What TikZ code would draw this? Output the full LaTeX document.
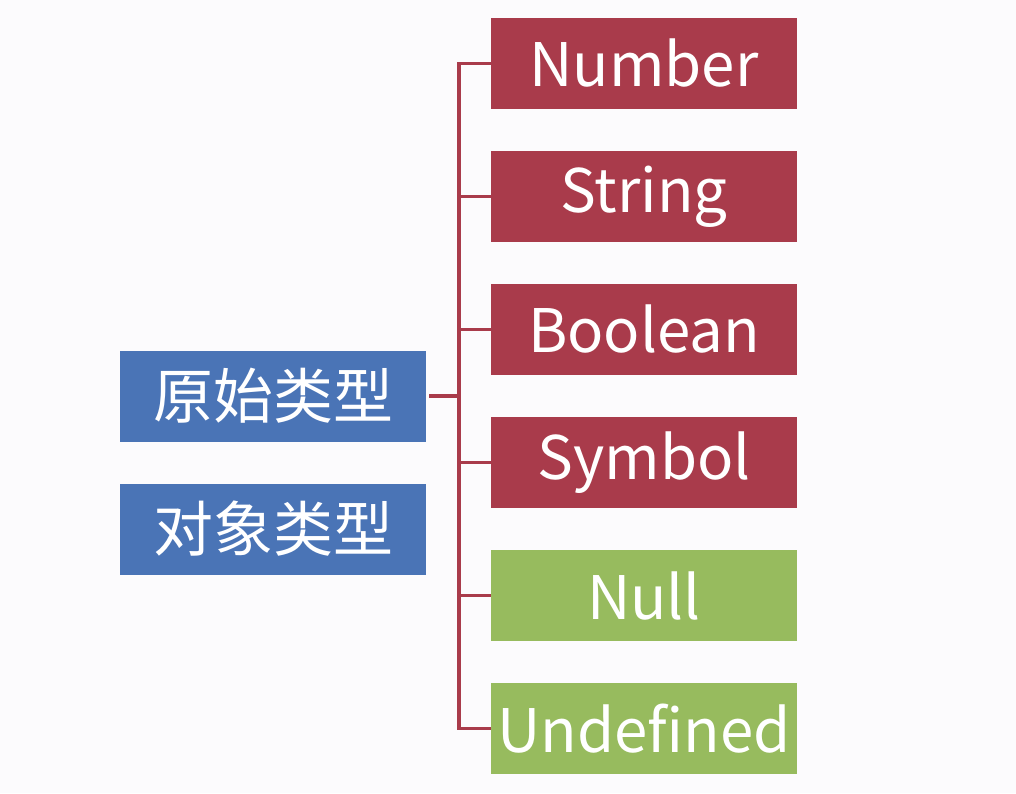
\documentclass[tikz,border=0pt]{standalone}
\usepackage{fontspec}
\setmainfont{Noto Sans CJK SC}
\definecolor{boxred}{HTML}{A93B4B}
\definecolor{boxblue}{HTML}{4A74B6}
\definecolor{boxgreen}{HTML}{97BB5E}
\definecolor{bgc}{HTML}{FCFBFD}
\begin{document}
\begin{tikzpicture}[x=1pt,y=-1pt,
  tbox/.style={rectangle, minimum width=306pt, minimum height=91pt, inner sep=0pt, text=white, font=\fontsize{60}{60}\selectfont},
  redbox/.style={tbox, fill=boxred},
  greenbox/.style={tbox, fill=boxgreen},
  bluebox/.style={tbox, fill=boxblue, font=\fontsize{60}{60}\selectfont},
  conn/.style={draw=boxred, line width=3.2pt}]
\fill[bgc] (0,0) rectangle (1016,793);
\useasboundingbox (0,0) rectangle (1016,793);
\node[redbox] (num) at (644,63.5) {Number};
\node[redbox] (str) at (644,196.5) {String};
\node[redbox] (bool) at (644,329.5) {Boolean};
\node[redbox] (sym) at (644,462.5) {Symbol};
\node[greenbox] (nul) at (644,595.5) {Null};
\node[greenbox] (und) at (644,728.5) {Undefined};
\node[bluebox] (yuan) at (273,396) {原始类型};
\node[bluebox] (obj) at (273,529) {对象类型};
\coordinate (bt) at (459,63.5);
\coordinate (bb) at (459,728.5);
\draw[conn] (num.west) -- (bt) -- (bb) -- (und.west);
\draw[conn] (str.west) -- (str.west -| bt);
\draw[conn] (bool.west) -- (bool.west -| bt);
\draw[conn] (sym.west) -- (sym.west -| bt);
\draw[conn] (nul.west) -- (nul.west -| bt);
\draw[conn] ([xshift=3pt]yuan.east) -- (yuan.east -| bt);
\end{tikzpicture}
\end{document}
